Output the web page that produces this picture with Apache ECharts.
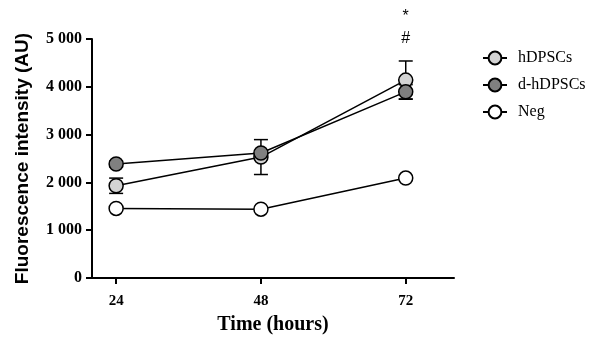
<!DOCTYPE html>
<html>
<head>
<meta charset="utf-8">
<script src="https://cdn.jsdelivr.net/npm/echarts@6/dist/echarts.min.js"></script>
<style>
html,body{margin:0;padding:0;background:#fff;}
#chart{width:606px;height:340px;}
</style>
</head>
<body>
<div id="chart"></div>
<script>
var hours = [24, 48, 72];
var seriesNames = ['hDPSCs', 'd-hDPSCs', 'Neg'];
var hDPSCs = [1930, 2530, 4140];
var hDPSCsErr = [160, 365, 400];
var dhDPSCs = [2385, 2615, 3895];
var dhDPSCsErr = [60, 0, 150];
var neg = [1455, 1440, 2090];
var negErr = [0, 0, 0];
var yTicks = [0, 1000, 2000, 3000, 4000, 5000];
var annotations = ['*', '#'];
var annotationHour = [72, 72];
var annotationY = [5460, 5000];

var fills = ['#d3d3d3', '#808080', '#ffffff'];
var values = [hDPSCs, dhDPSCs, neg];
var errs = [hDPSCsErr, dhDPSCsErr, negErr];

function fmt(v){ return v === 0 ? '0' : String(v).replace(/\B(?=(\d{3})+(?!\d))/g, ' '); }

var errData = [];
for (var s = 0; s < 3; s++) {
  for (var i = 0; i < hours.length; i++) {
    if (errs[s][i] > 0) errData.push([hours[i], values[s][i] - errs[s][i], values[s][i] + errs[s][i]]);
  }
}

var series = [{
  type: 'custom',
  name: 'err',
  data: errData,
  z: 1,
  renderItem: function (params, api) {
    var lo = api.coord([api.value(0), api.value(1)]);
    var hi = api.coord([api.value(0), api.value(2)]);
    var w = 7;
    var st = {stroke: '#000', lineWidth: 1.5};
    return {type: 'group', children: [
      {type: 'line', shape: {x1: lo[0], y1: lo[1], x2: hi[0], y2: hi[1]}, style: st},
      {type: 'line', shape: {x1: lo[0] - w, y1: lo[1], x2: lo[0] + w, y2: lo[1]}, style: st},
      {type: 'line', shape: {x1: hi[0] - w, y1: hi[1], x2: hi[0] + w, y2: hi[1]}, style: st}
    ]};
  }
}];
var order = [2, 0, 1];
order.forEach(function (s) {
  series.push({
    type: 'line',
    name: seriesNames[s],
    data: hours.map(function (h, i) { return [h, values[s][i]]; }),
    symbol: 'circle',
    symbolSize: 14,
    z: 3 + s,
    lineStyle: {color: '#000', width: 1.5},
    itemStyle: {color: fills[s], borderColor: '#000', borderWidth: 1.5},
    emphasis: {disabled: true}
  });
});
series.push({
  type: 'custom',
  name: 'ann',
  data: annotations.map(function (t, i) { return [annotationHour[i], annotationY[i], i]; }),
  clip: false,
  renderItem: function (params, api) {
    var p = api.coord([api.value(0), api.value(1)]);
    return {type: 'text', style: {text: annotations[params.dataIndex], x: p[0], y: p[1], align: 'center', verticalAlign: 'middle', font: '16px "Liberation Sans"', fill: '#000'}};
  }
});

var chart = echarts.init(document.getElementById('chart'), null, {renderer: 'canvas'});
chart.setOption({
  animation: false,
  backgroundColor: '#fff',
  grid: {left: 92, right: 152, top: 39, bottom: 62, containLabel: false},
  legend: {
    data: seriesNames,
    orient: 'vertical',
    left: 477,
    top: 45,
    itemWidth: 24,
    itemHeight: 16,
    itemGap: 11,
    textStyle: {fontFamily: 'Liberation Serif', fontSize: 16, color: '#000', padding: [0, 0, 0, 6]}
  },
  xAxis: {
    type: 'value',
    min: 20,
    max: 80,
    name: 'Time (hours)',
    nameLocation: 'middle',
    nameGap: 37,
    nameTextStyle: {fontFamily: 'Liberation Serif', fontWeight: 'bold', fontSize: 20, color: '#000'},
    axisLine: {lineStyle: {color: '#000', width: 2}},
    axisTick: {show: true, length: 6, lineStyle: {color: '#000', width: 2}, customValues: hours},
    axisLabel: {customValues: hours, margin: 16, fontFamily: 'Liberation Serif', fontWeight: 'bold', fontSize: 15, color: '#000'},
    splitLine: {show: false}
  },
  yAxis: {
    type: 'value',
    min: 0,
    max: 5000,
    interval: 1000,
    name: 'Fluorescence intensity (AU)',
    nameLocation: 'middle',
    nameGap: 60,
    nameTextStyle: {fontFamily: 'Liberation Sans', fontWeight: 'bold', fontSize: 19, color: '#000'},
    axisLine: {show: true, lineStyle: {color: '#000', width: 2}},
    axisTick: {show: true, length: 6, lineStyle: {color: '#000', width: 2}},
    axisLabel: {margin: 10, fontFamily: 'Liberation Serif', fontWeight: 'bold', fontSize: 16, color: '#000', formatter: function (v) { return fmt(v); }},
    splitLine: {show: false}
  },
  series: series
});
</script>
</body>
</html>
